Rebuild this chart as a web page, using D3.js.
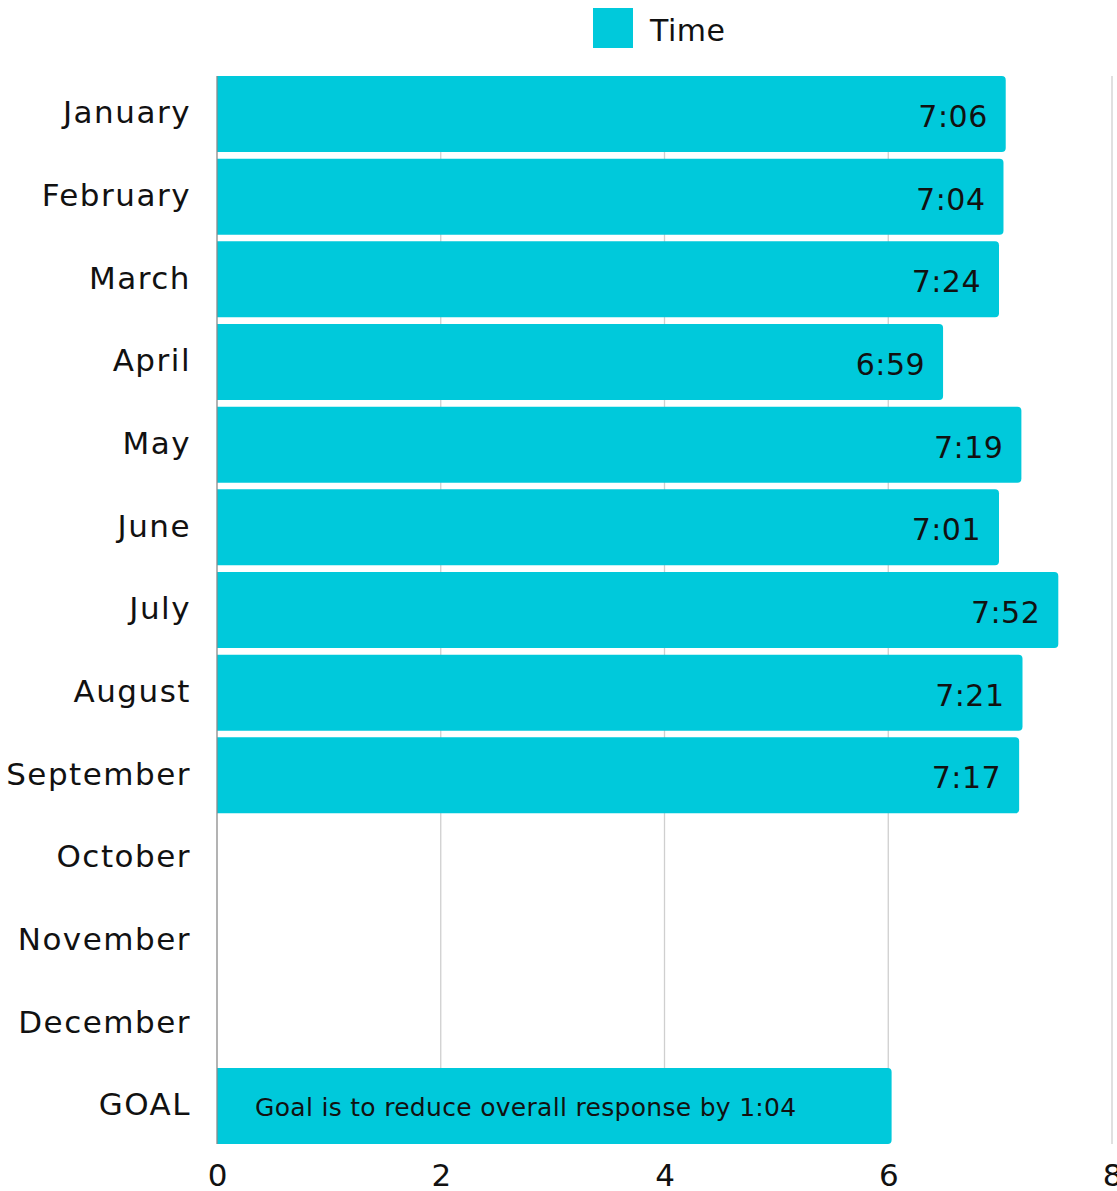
<!DOCTYPE html>
<html><head><meta charset="utf-8">
<script src="https://cdn.jsdelivr.net/npm/d3@7"></script>
<style>
html,body{margin:0;padding:0;background:#fff;}
svg text{font-family:"DejaVu Sans",sans-serif;fill:#111;}
</style></head>
<body>
<svg id="chart" width="1117" height="1191"></svg>
<script>
const categories = ["January","February","March","April","May","June","July","August","September","October","November","December","GOAL"];
const values = [7.05, 7.03, 6.99, 6.49, 7.19, 6.99, 7.52, 7.20, 7.17, null, null, null, 6.03];
const valueLabels = ["7:06","7:04","7:24","6:59","7:19","7:01","7:52","7:21","7:17","","","",""];
const goalNote = "Goal is to reduce overall response by 1:04";
const xTicks = [0, 2, 4, 6, 8];
const seriesName = "Time";

const color = "#00C9DB";
const svg = d3.select("#chart");
const x = d3.scaleLinear().domain([0, 8]).range([217, 1112]);
const y = d3.scaleBand().domain(categories).range([76, 1144]).paddingInner(0.08).paddingOuter(0);

// gridlines
svg.append("g").selectAll("line").data(xTicks.filter(d => d > 0)).join("line")
  .attr("x1", d => x(d)).attr("x2", d => x(d))
  .attr("y1", y.range()[0]).attr("y2", y.range()[1])
  .attr("stroke", "#cfcfcf").attr("stroke-width", 1.3);

// bars with rounded right corners
const r = 4;
function barPath(x0, x1, y0, h) {
  return `M${x0},${y0} H${x1 - r} Q${x1},${y0} ${x1},${y0 + r} V${y0 + h - r} Q${x1},${y0 + h} ${x1 - r},${y0 + h} H${x0} Z`;
}
const data = categories.map((c, i) => ({c, v: values[i], lab: valueLabels[i]}));
svg.append("g").selectAll("path").data(data.filter(d => d.v != null)).join("path")
  .attr("d", d => barPath(x(0), x(d.v), y(d.c), y.bandwidth()))
  .attr("fill", color);

// axis line
svg.append("line").attr("x1", x(0)).attr("x2", x(0))
  .attr("y1", y.range()[0]).attr("y2", y.range()[1])
  .attr("stroke", "#8a8a8a").attr("stroke-width", 1.3);

// value labels
svg.append("g").selectAll("text").data(data.filter(d => d.lab)).join("text")
  .attr("x", d => x(d.v) - 18)
  .attr("y", d => y(d.c) + y.bandwidth() / 2 + 13)
  .attr("text-anchor", "end")
  .style("font-size", "30px")
  .style("letter-spacing", "0.5px")
  .text(d => d.lab);

// goal note
svg.append("text")
  .attr("x", x(0) + 38)
  .attr("y", y("GOAL") + y.bandwidth() / 2 + 10)
  .style("font-size", "25px")
  .style("letter-spacing", "0.3px")
  .text(goalNote);

// y axis labels
const yAxis = d3.axisLeft(y).tickSize(0).tickPadding(0);
const gy = svg.append("g").attr("transform", `translate(${x(0) - 26},0)`).call(yAxis);
gy.select(".domain").remove();
gy.selectAll("text").style("font-size", "31px").style("font-family", "DejaVu Sans")
  .style("letter-spacing", "1.5px").attr("fill", "#111").attr("dy", "0.3em");

// x axis labels
const xAxis = d3.axisBottom(x).tickValues(xTicks).tickSize(0).tickPadding(0).tickFormat(d3.format("d"));
const gx = svg.append("g").attr("transform", `translate(0,${y.range()[1] + 20})`).call(xAxis);
gx.select(".domain").remove();
gx.selectAll("text").style("font-size", "31px").style("font-family", "DejaVu Sans").attr("fill", "#111").attr("dy", "0.71em");

// legend
const lg = svg.append("g");
lg.append("rect").attr("x", 593).attr("y", 8).attr("width", 40).attr("height", 40).attr("fill", color);
lg.append("text").attr("x", 650).attr("y", 41).style("font-size", "30px").style("letter-spacing", "0.5px").text(seriesName);
</script>
</body></html>
